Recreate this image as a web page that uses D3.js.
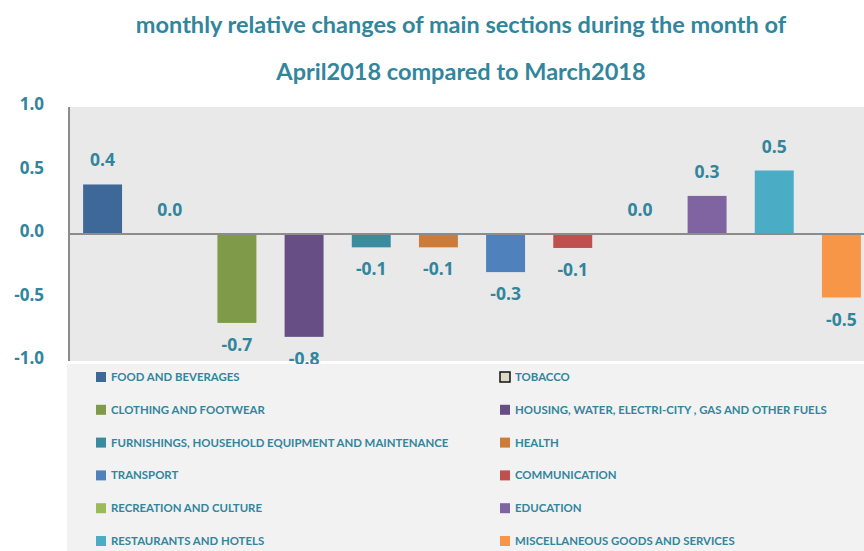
<!DOCTYPE html>
<html>
<head>
<meta charset="utf-8">
<script src="https://cdn.jsdelivr.net/npm/d3@7"></script>
<style>
  html, body { margin: 0; padding: 0; background: #fff; }
  svg { display: block; }
</style>
</head>
<body>
<svg id="chart" width="864" height="551"></svg>
<script>
  // monthly relative changes, April 2018 vs March 2018
  const categories = [
    'FOOD AND BEVERAGES',
    'TOBACCO',
    'CLOTHING AND FOOTWEAR',
    'HOUSING, WATER, ELECTRI-CITY , GAS AND OTHER FUELS',
    'FURNISHINGS, HOUSEHOLD EQUIPMENT AND MAINTENANCE',
    'HEALTH',
    'TRANSPORT',
    'COMMUNICATION',
    'RECREATION AND CULTURE',
    'EDUCATION',
    'RESTAURANTS AND HOTELS',
    'MISCELLANEOUS GOODS AND SERVICES'
  ];
  const values = [0.39, 0.0, -0.70, -0.81, -0.105, -0.105, -0.30, -0.11, 0.0, 0.30, 0.50, -0.50];
  const colors = ['#3e6898', '#ddd9c3', '#7f9a48', '#674f85', '#3a8ba0', '#cc7b38',
                  '#4f81bd', '#c0504d', '#9bbb59', '#8064a2', '#4bacc6', '#f79646'];
  const yTicks = [1.0, 0.5, 0.0, -0.5, -1.0];
  const titleLines = ['monthly relative changes of main sections during the month of',
                      'April2018 compared to March2018'];

  const TEAL = '#31859c';
  const svg = d3.select('#chart');

  // plain hyphen for negatives, like the original
  const fmt = v => (Math.abs(v) < 0.05 ? 0 : v).toFixed(1);

  const x = d3.scaleBand()
    .domain(categories)
    .range([69, 875])
    .paddingInner(0.42)
    .paddingOuter(0.21);

  const y = d3.scaleLinear().domain([-1, 1]).range([361, 107]);

  // title
  svg.append('g').selectAll('text')
    .data(titleLines)
    .enter()
    .append('text')
    .attr('x', 461)
    .attr('y', (d, i) => 33 + i * 47)
    .attr('text-anchor', 'middle')
    .style('font-family', 'Lato, "Open Sans", sans-serif')
    .style('font-weight', '700')
    .style('font-size', '23.5px')
    .style('fill', TEAL)
    .text(d => d);

  // plot background
  svg.append('rect')
    .attr('x', 69).attr('y', y(1))
    .attr('width', 864 - 69).attr('height', y(-1) - y(1))
    .attr('fill', '#e9e9e9');

  // y tick labels (no tick marks)
  svg.append('g').selectAll('text')
    .data(yTicks)
    .enter()
    .append('text')
    .attr('x', 44)
    .attr('y', d => y(d) + 3)
    .attr('text-anchor', 'end')
    .style('font-family', '"Open Sans", sans-serif')
    .style('font-weight', '700')
    .style('font-size', '17px')
    .style('fill', TEAL)
    .text(fmt);

  // bars
  svg.append('g').selectAll('rect')
    .data(values)
    .enter()
    .append('rect')
    .attr('x', (d, i) => x(categories[i]))
    .attr('width', x.bandwidth())
    .attr('y', d => y(Math.max(0, d)))
    .attr('height', d => Math.abs(y(d) - y(0)))
    .attr('fill', (d, i) => colors[i]);

  // axis lines
  svg.append('line')
    .attr('x1', 69).attr('x2', 864)
    .attr('y1', y(0)).attr('y2', y(0))
    .attr('stroke', '#8c8c8c').attr('stroke-width', 2);
  svg.append('line')
    .attr('x1', 69).attr('x2', 69)
    .attr('y1', y(1)).attr('y2', y(-1))
    .attr('stroke', '#8c8c8c').attr('stroke-width', 2);

  // value labels
  svg.append('g').selectAll('text')
    .data(values)
    .enter()
    .append('text')
    .attr('x', (d, i) => x(categories[i]) + x.bandwidth() / 2)
    .attr('y', d => d >= 0 ? y(d) - 18 : y(d) + 28)
    .attr('text-anchor', 'middle')
    .style('font-family', '"Open Sans", sans-serif')
    .style('font-weight', '700')
    .style('font-size', '17.5px')
    .style('fill', TEAL)
    .text(fmt);

  // legend (drawn on top, clips the lowest label like the original)
  svg.append('rect')
    .attr('x', 67).attr('y', 364)
    .attr('width', 864 - 67).attr('height', 551 - 364)
    .attr('fill', '#f2f2f2');

  const legend = svg.append('g').selectAll('g')
    .data(categories)
    .enter()
    .append('g')
    .attr('transform', (d, i) => `translate(${i % 2 === 0 ? 96 : 500}, ${377 + Math.floor(i / 2) * 32.8})`);

  legend.append('rect')
    .attr('x', 0).attr('y', -5)
    .attr('width', 10).attr('height', 10)
    .attr('fill', (d, i) => colors[i])
    .attr('stroke', (d, i) => i === 1 ? '#111' : 'none')
    .attr('stroke-width', 1.5);

  legend.append('text')
    .attr('x', 15)
    .attr('y', 4)
    .style('font-family', 'Lato, "Open Sans", sans-serif')
    .style('font-weight', '700')
    .style('font-size', '11.4px')
    .style('fill', TEAL)
    .text(d => d);
</script>
</body>
</html>
